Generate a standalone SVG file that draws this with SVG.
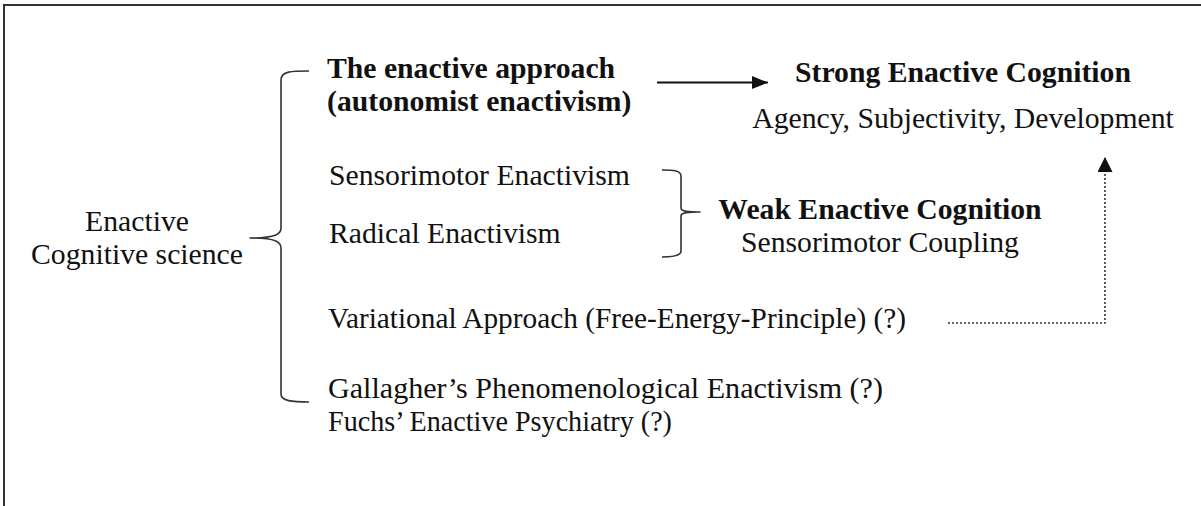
<svg xmlns="http://www.w3.org/2000/svg" width="1201" height="506" viewBox="0 0 1201 506">
  <style>
    .t { font-family: "Liberation Serif", "Times New Roman", serif; font-size: 29.7px; fill: #111; }
    .b { font-weight: bold; }
    .brace { fill: none; stroke: #333; stroke-width: 1.6; stroke-linejoin: round; }
    .frame { fill: none; stroke: #333; stroke-width: 2; }
    .solid { fill: none; stroke: #111; stroke-width: 2; }
    .dotted { fill: none; stroke: #333; stroke-width: 1.6; stroke-dasharray: 2 2; }
  </style>
  <defs>
    <marker id="headDot" viewBox="0 0 10 10" refX="10" refY="5" markerWidth="15" markerHeight="15" markerUnits="userSpaceOnUse" orient="auto">
      <path d="M0,0 L10,5 L0,10 Z" fill="#111"/>
    </marker>
    <marker id="headSolid" viewBox="0 0 10 10" refX="10" refY="5" markerWidth="16" markerHeight="13" markerUnits="userSpaceOnUse" orient="auto" preserveAspectRatio="none">
      <path d="M0,0 L10,5 L0,10 Z" fill="#111"/>
    </marker>
  </defs>

  <!-- open frame: top and left edges -->
  <path class="frame" d="M4,506 L4,5 L1201,5"/>

  <g id="root-node">
    <text class="t" x="137" y="231" text-anchor="middle">Enactive</text>
    <text class="t" x="137" y="264" text-anchor="middle">Cognitive science</text>
  </g>

  <g id="main-brace">
    <path class="brace" d="M309,71 C292,71 281,71 281,80 L281,228 C281,234 276,238 250,238 C276,238 281,242 281,248 L281,394 C281,401 292,402 309,402"/>
  </g>

  <g id="enactive-approach">
    <text class="t b" x="327" y="78">The enactive approach</text>
    <text class="t b" x="327" y="111">(autonomist enactivism)</text>
  </g>

  <g id="strong-cognition">
    <text class="t b" x="963" y="82" text-anchor="middle">Strong Enactive Cognition</text>
    <text class="t" x="963" y="128" text-anchor="middle">Agency, Subjectivity, Development</text>
  </g>

  <g id="sensorimotor">
    <text class="t" x="329" y="185">Sensorimotor Enactivism</text>
  </g>

  <g id="radical">
    <text class="t" x="329" y="243">Radical Enactivism</text>
  </g>

  <g id="sub-brace">
    <path class="brace" d="M662,170 C672,170 681,170 681,176 L681,208 C681,211 686,212 700,212 C686,212 681,213 681,216 L681,251 C681,256 672,257 662,257"/>
  </g>

  <g id="weak-cognition">
    <text class="t b" x="880" y="219" text-anchor="middle">Weak Enactive Cognition</text>
    <text class="t" x="880" y="252" text-anchor="middle">Sensorimotor Coupling</text>
  </g>

  <g id="variational">
    <text class="t" x="328" y="328" textLength="578" lengthAdjust="spacingAndGlyphs">Variational Approach (Free-Energy-Principle) (?)</text>
  </g>

  <g id="phenomenological">
    <text class="t" x="328" y="398" textLength="555" lengthAdjust="spacingAndGlyphs">Gallagher’s Phenomenological Enactivism (?)</text>
    <text class="t" x="328" y="431" textLength="344" lengthAdjust="spacingAndGlyphs">Fuchs’ Enactive Psychiatry (?)</text>
  </g>

  <g id="connectors">
    <path class="solid" d="M657,82.5 L768,82.5" marker-end="url(#headSolid)"/>
    <path class="dotted" d="M948,323 L1105,323 L1105,157" marker-end="url(#headDot)"/>
  </g>
</svg>
